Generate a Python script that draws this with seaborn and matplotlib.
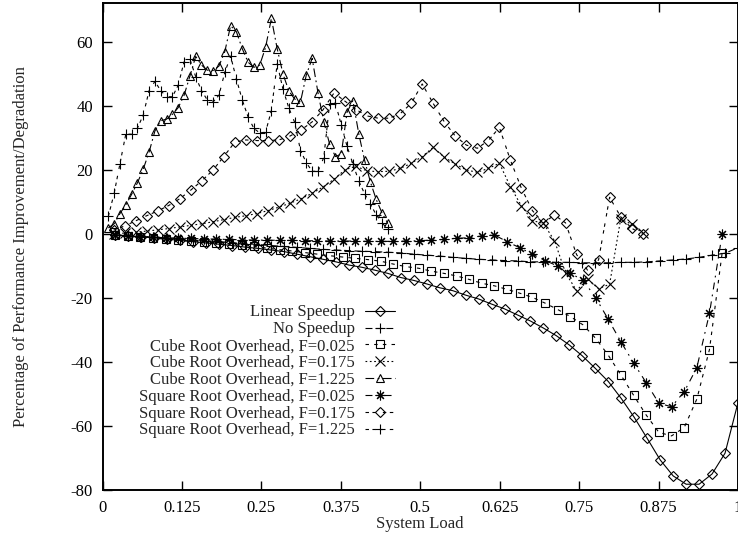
import numpy as np
import matplotlib
matplotlib.use("Agg")
import matplotlib.pyplot as plt
import seaborn as sns

# ---- data: % improvement/degradation vs. system load (49 load steps per curve) ----
n_steps = 49

linear_speedup = [-0.2, -0.5, -0.8, -1.1, -1.5, -1.9, -2.3, -2.7, -3.1, -3.5, -4.0, -4.4, -4.9,
                  -5.4, -6.2, -7.0, -7.8, -8.6, -9.6, -10.3, -11.2, -12.2,
                  -13.5, -14.4, -15.5, -16.7, -17.6, -19.0, -20.2, -21.8, -23.3, -25.2, -27.1,
                  -29.3, -31.7, -34.6, -38.0, -41.9, -46.0, -51.3, -57.2, -63.8, -70.5, -75.5,
                  -78.1, -78.1, -74.9, -68.4, -52.6]
no_speedup = [-0.2, -0.4, -0.6, -0.9, -1.1, -1.4, -1.7, -2.0, -2.3, -2.6, -2.9, -3.2, -3.5,
              -3.8, -4.1, -4.4, -4.7, -4.9, -5.1, -5.3, -5.4, -5.6,
              -5.8, -6.2, -6.5, -6.8, -7.2, -7.5, -7.8, -8.0, -8.2, -8.3, -8.6, -8.6, -8.75,
              -8.75, -8.9, -8.9, -8.9, -8.75, -8.75, -8.6, -8.3, -8.0, -7.7, -7.2, -6.5, -5.9, -4.2]
cube_f0025 = [-0.3, -0.6, -0.9, -1.2, -1.5, -1.8, -2.1, -2.4, -2.7, -3.0, -3.4, -3.8, -4.3,
              -4.8, -5.2, -5.7, -6.2, -6.7, -7.1, -7.5, -7.9, -8.4, -9.3,
              -10.1, -10.6, -11.5, -12.2, -13.0, -14.1, -15.3, -16.1, -17.2, -18.4, -19.7,
              -21.5, -23.5, -25.7, -28.3, -32.5, -37.8, -44.0, -50.3, -56.5, -61.9, -63.0,
              -60.4, -51.5, -36.0, -5.9]
cube_f0175 = [0.1, 0.4, 0.7, 1.0, 1.4, 1.8, 2.3, 2.8, 3.3, 3.9, 4.6, 5.3, 5.8, 6.5, 7.4, 8.5,
              9.7, 11.1, 12.8, 14.8, 17.2,
              20.2, 21.3, 19.8, 19.6, 19.7, 20.6, 22.2, 24.3, 27.2, 24.1, 22.0, 20.1, 19.4,
              20.6, 22.2, 14.9, 8.9, 4.3, 3.4, -2.0, -12.0, -17.6, -14.0, -17.0, -15.6, 4.7,
              3.2, 0.3]
cube_f1225 = [2.0, 3.3, 6.5, 9.2, 12.5, 16.1, 20.4, 25.7, 32.3, 35.5,
              36.0, 37.5, 39.6, 43.4, 49.4, 55.6, 52.9, 51.3, 51.2, 52.6,
              57.1, 65.2, 63.3, 58.0, 53.8, 52.2, 52.9, 58.4, 67.5, 58.0,
              50.1, 44.8, 42.3, 41.4, 49.8, 55.0, 44.3, 35.2, 28.2, 24.3,
              25.1, 38.2, 41.8, 31.5, 23.2, 16.4, 10.9, 6.7, 3.4]
sqrt_f0025 = [-0.3, -0.5, -0.7, -0.9, -1.0, -1.2, -1.3, -1.4, -1.5, -1.6, -1.7, -1.8, -1.8,
              -1.9, -1.9, -2.0, -2.0, -2.1, -2.1, -2.1, -2.2, -2.2, -2.2,
              -2.1, -2.0, -1.8, -1.6, -1.25, -1.05, -0.5, -0.2, -2.3, -4.2, -6.2, -8.2,
              -9.9, -12.2, -14.3, -19.8, -26.6, -33.6, -40.2, -46.4, -52.8, -53.9, -49.2,
              -41.7, -24.7, 0.0]
sqrt_f0175 = [1.3, 2.6, 4.2, 5.8, 7.3, 9.0, 11.1, 13.8, 16.7, 20.0,
              24.3, 28.8, 29.5, 29.3, 29.3, 29.5, 30.7, 32.6, 35.1, 38.9,
              44.2, 41.6, 39.0, 37.0, 36.3, 36.3, 37.7, 40.9, 47.0, 40.9,
              35.2, 30.7, 27.9, 26.9, 29.3, 33.4, 23.2, 14.4, 7.4, 3.6,
              6.0, 3.6, -6.3, -11.2, -8.0, 11.6, 5.5, 1.9, 0.0]
sqrt_f1225 = [5.6, 12.8, 22.1, 31.3, 31.3, 33.2, 37.3, 44.9, 47.8, 44.9,
              43.0, 43.0, 46.6, 53.9, 54.8, 49.3, 44.9, 42.0, 41.4, 43.5,
              50.6, 55.7, 48.5, 42.0, 36.7, 33.1, 31.7, 31.9, 38.7, 53.3,
              45.3, 39.5, 35.0, 26.2, 22.4, 19.7, 19.7, 24.0, 40.8, 41.0,
              34.2, 27.5, 22.0, 16.7, 12.7, 9.5, 6.1, 3.6, 1.6]

# highest load reached by each curve (overhead F shrinks the usable range)
load_end = {"none": 1.0, "F=0.025": 0.975, "F=0.175": 0.85, "F=1.225": 0.449}

x_ticks = [0, 0.125, 0.25, 0.375, 0.5, 0.625, 0.75, 0.875, 1]
x_tick_labels = ["0", "0.125", "0.25", "0.375", "0.5", "0.625", "0.75", "0.875", "1"]
y_ticks = [-80, -60, -40, -20, 0, 20, 40, 60]

# gnuplot-like dash patterns (points)
u = 1.25
star = (8, 2, 0)
series = [
    ("Linear Speedup", linear_speedup, "none", "-", "D", 4.7),
    ("No Speedup", no_speedup, "none", (0, (4 * u, 2 * u)), "+", 6.5),
    ("Cube Root Overhead, F=0.025", cube_f0025, "F=0.025", (0, (2 * u, 3 * u)), "s", 6.0),
    ("Cube Root Overhead, F=0.175", cube_f0175, "F=0.175", (0, (1 * u, 1.5 * u)), "x", 6.5),
    ("Cube Root Overhead, F=1.225", cube_f1225, "F=1.225", (0, (5 * u, 2 * u, 1 * u, 2 * u)), "^", 6.3),
    ("Square Root Overhead, F=0.025", sqrt_f0025, "F=0.025", (0, (4 * u, 3 * u, 1 * u, 3 * u)), star, 7.0),
    ("Square Root Overhead, F=0.175", sqrt_f0175, "F=0.175", (0, (2 * u, 2 * u, 2 * u, 4 * u)), "D", 4.7),
    ("Square Root Overhead, F=1.225", sqrt_f1225, "F=1.225", (0, (2 * u, 2 * u, 2 * u, 2 * u, 2 * u, 4 * u)), "+", 6.5),
]

FS = 12

sns.set_style("ticks")
plt.rcParams.update({
    "font.family": ["Liberation Serif", "DejaVu Serif"],
    "font.size": FS,
    "axes.unicode_minus": False,
    "lines.scale_dashes": False,
    "axes.linewidth": 1.4,
    "axes.edgecolor": "black",
    "xtick.color": "black",
    "ytick.color": "black",
})

W, H = 738, 538
fig = plt.figure(figsize=(W / 100, H / 100), dpi=100)
ax = fig.add_axes([102.5 / W, 1 - 490.3 / H, 635.5 / W, 487.3 / H])

for label, values, key, ls, marker, ms in series:
    end = load_end[key]
    x = np.linspace(end / n_steps, end, n_steps)
    sns.lineplot(x=x, y=values, ax=ax, color="black", linewidth=0.8, linestyle=ls,
                 marker=marker, markersize=ms, markerfacecolor="none",
                 markeredgecolor="black", markeredgewidth=0.8, label=label,
                 estimator=None, sort=False)

ax.set_xlim(0, 1)
ax.set_ylim(-80, 72.3)
ax.set_xticks(x_ticks)
ax.set_xticklabels(x_tick_labels)
ax.set_yticks(y_ticks)
ax.tick_params(direction="in", top=True, right=True, length=6.5, width=1.0,
               labelsize=FS)
ax.tick_params(axis="x", pad=7)
ax.tick_params(axis="y", pad=7)
for s in ax.spines.values():
    s.set_linewidth(1.4)

ax.set_xlabel("System Load", fontsize=FS)
ax.xaxis.set_label_coords(0.5, -0.052)
ax.set_ylabel("Percentage of Performance Improvement/Degradation", fontsize=FS)
ax.yaxis.set_label_coords(-0.115, 0.5)

ax.legend(loc="upper right", bbox_to_anchor=((395 - 102.5) / 635.5, (490.3 - 304.5) / 487.3),
          frameon=False, markerfirst=False, handlelength=1.8, handletextpad=0.6,
          labelspacing=0.05, borderpad=0, borderaxespad=0, numpoints=1, fontsize=FS)

fig.savefig("out.png", dpi=100)
